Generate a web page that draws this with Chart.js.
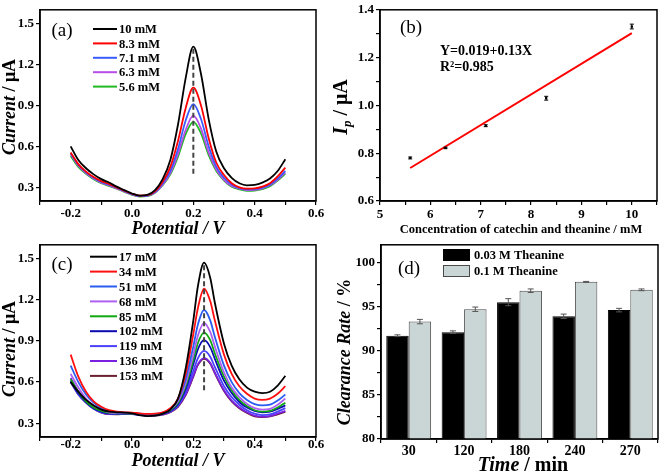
<!DOCTYPE html>
<html>
<head>
<meta charset="utf-8">
<script src="https://cdn.jsdelivr.net/npm/chart.js@4.4.0/dist/chart.umd.min.js"></script>
<style>
  body { margin: 0; background: #fff; width: 661px; height: 475px; position: relative; overflow: hidden; }
  canvas { position: absolute; }
</style>
</head>
<body>
<canvas id="chartA" width="330" height="240" style="left:0;top:0"></canvas>
<canvas id="chartB" width="331" height="240" style="left:330px;top:0"></canvas>
<canvas id="chartC" width="330" height="240" style="left:0;top:235px"></canvas>
<canvas id="chartD" width="331" height="240" style="left:330px;top:235px"></canvas>
<script>
const FONT = "'Liberation Serif','Times New Roman',serif";

// ---- (a) DPV curves, catechin + theanine ----
const potA = [-0.2, -0.175, -0.15, -0.125, -0.1, -0.075, -0.05, -0.025, 0, 0.025, 0.05, 0.075, 0.1, 0.125, 0.15,
  0.175, 0.2, 0.225, 0.25, 0.275, 0.3, 0.325, 0.35, 0.375, 0.4, 0.425, 0.45, 0.475, 0.5];
const labelsA = ['10 mM', '8.3 mM', '7.1 mM', '6.3 mM', '5.6 mM'];
const a10 = [0.60, 0.50, 0.44, 0.395, 0.36, 0.335, 0.305, 0.28, 0.255, 0.24, 0.245, 0.28, 0.36, 0.50, 0.76,
  1.10, 1.33, 1.13, 0.80, 0.56, 0.44, 0.37, 0.33, 0.315, 0.318, 0.335, 0.365, 0.42, 0.505];
const a83 = [0.555, 0.47, 0.415, 0.375, 0.345, 0.325, 0.30, 0.275, 0.253, 0.24, 0.243, 0.27, 0.34, 0.45, 0.64,
  0.88, 1.03, 0.90, 0.66, 0.48, 0.39, 0.33, 0.30, 0.29, 0.292, 0.305, 0.33, 0.38, 0.445];
const a71 = [0.55, 0.465, 0.41, 0.37, 0.34, 0.32, 0.297, 0.273, 0.25, 0.237, 0.24, 0.265, 0.33, 0.42, 0.58,
  0.79, 0.91, 0.80, 0.60, 0.45, 0.37, 0.32, 0.295, 0.285, 0.287, 0.298, 0.32, 0.365, 0.42];
const a63 = [0.545, 0.46, 0.405, 0.365, 0.335, 0.315, 0.293, 0.27, 0.248, 0.235, 0.238, 0.262, 0.32, 0.405, 0.545,
  0.72, 0.825, 0.73, 0.555, 0.43, 0.355, 0.31, 0.29, 0.28, 0.282, 0.293, 0.315, 0.355, 0.41];
const a56 = [0.53, 0.45, 0.40, 0.36, 0.33, 0.31, 0.29, 0.267, 0.245, 0.232, 0.235, 0.26, 0.315, 0.395, 0.525,
  0.69, 0.78, 0.695, 0.535, 0.42, 0.35, 0.305, 0.285, 0.275, 0.277, 0.287, 0.308, 0.35, 0.40];
const peakLineA = { x: 0.2, from: 0.4, to: 1.33 };
const potTicks = [-0.3, -0.2, -0.1, 0, 0.1, 0.2, 0.3, 0.4, 0.5, 0.6];
const potLabels = [-0.2, 0, 0.2, 0.4, 0.6];
const curTicks = [0.3, 0.6, 0.9, 1.2, 1.5];

// ---- (b) calibration ----
const concB = [5.6, 6.3, 7.1, 8.3, 10];
const ipB = [0.78, 0.822, 0.915, 1.03, 1.33];
const ipErrB = [0.004, 0.003, 0.004, 0.008, 0.01];
const fitXB = [5.6, 10];
const fitYB = [0.738, 1.302];
const concTicks = [5, 5.5, 6, 6.5, 7, 7.5, 8, 8.5, 9, 9.5, 10, 10.5];
const concLabels = [5, 6, 7, 8, 9, 10];
const ipTicks = [0.6, 0.7, 0.8, 0.9, 1.0, 1.1, 1.2, 1.3, 1.4];
const ipLabels = [0.6, 0.8, 1.0, 1.2, 1.4];

// ---- (c) DPV curves, theanine series ----
const potC = [-0.2, -0.175, -0.15, -0.125, -0.1, -0.075, -0.05, -0.025, 0, 0.025, 0.05, 0.075, 0.1, 0.125, 0.15,
  0.175, 0.2, 0.215, 0.235, 0.255, 0.27, 0.3, 0.325, 0.35, 0.375, 0.4, 0.425, 0.45, 0.475, 0.5];
const labelsC = ['17 mM', '34 mM', '51 mM', '68 mM', '85 mM', '102 mM', '119 mM', '136 mM', '153 mM'];
const c17 = [0.60, 0.53, 0.47, 0.43, 0.40, 0.385, 0.38, 0.378, 0.372, 0.36, 0.352, 0.355, 0.37, 0.40, 0.48,
  0.70, 1.05, 1.30, 1.47, 1.36, 1.18, 0.88, 0.72, 0.62, 0.56, 0.53, 0.52, 0.53, 0.575, 0.645];
const c34 = [0.80, 0.64, 0.53, 0.46, 0.42, 0.395, 0.385, 0.38, 0.378, 0.372, 0.368, 0.37, 0.38, 0.41, 0.48,
  0.66, 0.95, 1.14, 1.28, 1.19, 1.05, 0.80, 0.66, 0.57, 0.515, 0.48, 0.47, 0.48, 0.515, 0.57];
const c51 = [0.72, 0.60, 0.51, 0.45, 0.41, 0.39, 0.38, 0.378, 0.376, 0.37, 0.365, 0.367, 0.377, 0.405, 0.47,
  0.62, 0.86, 1.02, 1.125, 1.05, 0.93, 0.72, 0.60, 0.52, 0.47, 0.44, 0.43, 0.435, 0.465, 0.51];
const c68 = [0.66, 0.56, 0.48, 0.43, 0.40, 0.38, 0.375, 0.374, 0.372, 0.367, 0.362, 0.364, 0.374, 0.40, 0.46,
  0.59, 0.80, 0.94, 1.03, 0.965, 0.86, 0.67, 0.56, 0.49, 0.44, 0.41, 0.40, 0.405, 0.435, 0.48];
const c85 = [0.62, 0.53, 0.46, 0.415, 0.39, 0.375, 0.372, 0.372, 0.37, 0.365, 0.36, 0.362, 0.372, 0.395, 0.45,
  0.57, 0.76, 0.885, 0.96, 0.905, 0.81, 0.64, 0.54, 0.47, 0.425, 0.395, 0.385, 0.39, 0.415, 0.45];
const c102 = [0.61, 0.52, 0.455, 0.41, 0.385, 0.372, 0.37, 0.37, 0.368, 0.362, 0.357, 0.36, 0.37, 0.39, 0.44,
  0.55, 0.73, 0.84, 0.905, 0.855, 0.77, 0.61, 0.52, 0.455, 0.415, 0.39, 0.38, 0.385, 0.405, 0.43];
const c119 = [0.60, 0.51, 0.45, 0.405, 0.38, 0.37, 0.368, 0.368, 0.366, 0.36, 0.355, 0.357, 0.367, 0.387, 0.43,
  0.53, 0.68, 0.775, 0.827, 0.785, 0.71, 0.57, 0.49, 0.435, 0.395, 0.37, 0.36, 0.365, 0.385, 0.41];
const c136 = [0.63, 0.53, 0.46, 0.41, 0.38, 0.368, 0.366, 0.37, 0.372, 0.365, 0.358, 0.358, 0.365, 0.383, 0.425,
  0.51, 0.645, 0.73, 0.775, 0.74, 0.67, 0.54, 0.465, 0.415, 0.38, 0.355, 0.348, 0.352, 0.37, 0.39];
const c153 = [0.60, 0.51, 0.45, 0.405, 0.378, 0.366, 0.365, 0.37, 0.372, 0.364, 0.356, 0.356, 0.363, 0.38, 0.42,
  0.505, 0.64, 0.725, 0.77, 0.735, 0.665, 0.535, 0.46, 0.41, 0.375, 0.35, 0.345, 0.35, 0.365, 0.385];
const peakLineC = { x: 0.235, from: 0.54, to: 1.47 };

// ---- (d) clearance rate ----
const timeD = ['30', '120', '180', '240', '270'];
const labelsD = ['0.03 M Theanine', '0.1 M Theanine'];
const rate003 = [91.7, 92.1, 95.5, 93.9, 94.6];
const rate01 = [93.3, 94.7, 96.8, 97.8, 96.9];
const err003 = [0.1, 0.15, 0.4, 0.25, 0.2];
const err01 = [0.25, 0.25, 0.2, 0.05, 0.1];
const rateTicks = [80, 82.5, 85, 87.5, 90, 92.5, 95, 97.5, 100];
const rateLabels = [80, 85, 90, 95, 100];

const colorsA = ['#000000', '#ff0000', '#3a5cff', '#b84ee8', '#22b822'];
const colorsC = ['#000000', '#ff1010', '#2a5cf0', '#b060f0', '#10a810', '#0a0ab0', '#4a40ff', '#7a20e0', '#6a2030'];

function pts(xs, ys) {
  return xs.map((x, i) => ({ x: x, y: ys[i] }));
}

function drawRich(ctx, segs, x, y, rot, size) {
  const fontOf = s => (s.it ? 'italic ' : '') + 'bold ' + (s.sub ? size * 0.65 : size) + 'px ' + FONT;
  let w = 0;
  segs.forEach(s => { ctx.font = fontOf(s); w += ctx.measureText(s.t).width; });
  ctx.save();
  ctx.translate(x, y);
  ctx.rotate(rot);
  ctx.textAlign = 'left';
  ctx.textBaseline = 'middle';
  let cx = -w / 2;
  segs.forEach(s => {
    ctx.font = fontOf(s);
    ctx.fillText(s.t, cx, s.sub ? size * 0.3 : 0);
    cx += ctx.measureText(s.t).width;
  });
  ctx.restore();
}

// frame, panel tag, axis titles, legend, notes, error bars
function makeDecor(o) {
  return {
    id: 'decor',
    afterDatasetsDraw(chart) {
      if (!o.errors) return;
      const ctx = chart.ctx;
      const ys = chart.scales.y;
      ctx.save();
      o.errors.forEach(e => {
        const meta = chart.getDatasetMeta(e.ds);
        const data = chart.data.datasets[e.ds].data;
        meta.data.forEach((el, j) => {
          const v = typeof data[j] === 'object' ? data[j].y : data[j];
          const top = ys.getPixelForValue(v + e.err[j]);
          const bot = ys.getPixelForValue(v - e.err[j]);
          ctx.strokeStyle = e.color;
          ctx.lineWidth = 1;
          ctx.beginPath();
          ctx.moveTo(el.x, top); ctx.lineTo(el.x, bot);
          ctx.moveTo(el.x - e.cap, top); ctx.lineTo(el.x + e.cap, top);
          ctx.moveTo(el.x - e.cap, bot); ctx.lineTo(el.x + e.cap, bot);
          ctx.stroke();
        });
      });
      ctx.restore();
    },
    afterDraw(chart) {
      const ctx = chart.ctx, a = chart.chartArea;
      ctx.save();
      ctx.strokeStyle = '#000';
      ctx.lineWidth = 1.5;
      ctx.strokeRect(a.left, a.top, a.right - a.left, a.bottom - a.top);
      ctx.fillStyle = '#000';
      ctx.font = '19px ' + FONT;
      ctx.textAlign = 'center';
      ctx.textBaseline = 'middle';
      ctx.fillText(o.tag[0], o.tag[1], o.tag[2]);
      drawRich(ctx, o.xTitle.segs, o.xTitle.x, o.xTitle.y, 0, o.xTitle.size);
      drawRich(ctx, o.yTitle.segs, o.yTitle.x, o.yTitle.y, -Math.PI / 2, o.yTitle.size);
      if (o.legend) {
        const L = o.legend;
        let k = 0;
        chart.data.datasets.forEach(ds => {
          if (!ds.label) return;
          const y = L.y + k * L.dy;
          if (L.box) {
            ctx.fillStyle = ds.backgroundColor;
            ctx.fillRect(L.x0, y - 6, L.x1 - L.x0, 12);
            ctx.strokeStyle = ds.borderColor;
            ctx.lineWidth = 1;
            ctx.strokeRect(L.x0 + 0.5, y - 5.5, L.x1 - L.x0 - 1, 11);
          } else {
            ctx.strokeStyle = ds.borderColor;
            ctx.lineWidth = 2;
            ctx.beginPath();
            ctx.moveTo(L.x0, y); ctx.lineTo(L.x1, y);
            ctx.stroke();
          }
          ctx.fillStyle = '#000';
          ctx.font = 'bold 12.5px ' + FONT;
          ctx.textAlign = 'left';
          ctx.fillText(ds.label, L.tx, y + 1);
          k++;
        });
      }
      if (o.notes) {
        ctx.fillStyle = '#000';
        ctx.textAlign = 'left';
        o.notes.forEach(n => {
          ctx.font = 'bold ' + n.size + 'px ' + FONT;
          ctx.fillText(n.t, n.x, n.y);
        });
      }
      ctx.restore();
    }
  };
}

function linScale(pos, min, max, ticks, labels, digits, fit, tickPad) {
  return {
    type: 'linear', position: pos, min: min, max: max,
    afterBuildTicks: s => { s.ticks = ticks.map(v => ({ value: v })); },
    afterFit: s => { if (pos === 'left') s.width = fit; else s.height = fit; },
    border: { display: true, color: '#000', width: 1.5 },
    grid: { drawOnChartArea: false, drawTicks: true, tickLength: 4, color: '#000', lineWidth: 1.2 },
    ticks: {
      autoSkip: false, maxRotation: 0, padding: tickPad === undefined ? 2 : tickPad, color: '#000',
      font: { family: FONT, size: 13, weight: 'bold' },
      callback: v => labels.some(l => Math.abs(l - v) < 1e-6) ? v.toFixed(digits) : ''
    }
  };
}

function pad(w, h, l, t, r, b) {
  return { left: 0, top: t, right: w - r, bottom: 0 };
}

function curveChart(id, xs, series, labels, colors, peak, box, xPad, deco) {
  const datasets = series.map((ys, i) => ({
    label: labels[i], data: pts(xs, ys), borderColor: colors[i], borderWidth: 1.8,
    pointRadius: 0, cubicInterpolationMode: 'monotone', fill: false
  }));
  datasets.push({
    data: [{ x: peak.x, y: peak.from }, { x: peak.x, y: peak.to }],
    borderColor: '#444', borderWidth: 2, borderDash: [5, 3], pointRadius: 0, order: -1
  });
  return new Chart(document.getElementById(id), {
    type: 'line',
    data: { datasets: datasets },
    options: {
      responsive: false, animation: false, events: [],
      layout: { padding: pad(330, 240, box[0], box[1], box[2], box[3]) },
      plugins: { legend: { display: false }, tooltip: { enabled: false } },
      scales: {
        x: linScale('bottom', -0.3, 0.6, potTicks, potLabels, 1, 240 - box[3], xPad),
        y: linScale('left', 0.2, 1.6, curTicks, curTicks, 1, box[0])
      }
    },
    plugins: [makeDecor(deco)]
  });
}

curveChart('chartA', potA, [a10, a83, a71, a63, a56], labelsA, colorsA, peakLineA, [40, 5, 316, 201], 1, {
  tag: ['(a)', 62, 31],
  xTitle: { segs: [{ t: 'Potential / V', it: true }], x: 178, y: 229, size: 18 },
  yTitle: { segs: [{ t: 'Current', it: true }, { t: ' / μA' }], x: 10, y: 107, size: 18 },
  legend: { x0: 93, x1: 117, tx: 119, y: 29, dy: 14.4 }
});

curveChart('chartC', potC, [c17, c34, c51, c68, c85, c102, c119, c136, c153], labelsC, colorsC, peakLineC, [40, 8, 316, 202], -4, {
  tag: ['(c)', 62, 30.5],
  xTitle: { segs: [{ t: 'Potential / V', it: true }], x: 178, y: 226, size: 18 },
  yTitle: { segs: [{ t: 'Current', it: true }, { t: ' / μA' }], x: 10, y: 114, size: 18 },
  legend: { x0: 90, x1: 117, tx: 119, y: 21.7, dy: 14.9 }
});

new Chart(document.getElementById('chartB'), {
  type: 'scatter',
  data: {
    datasets: [
      { data: pts(concB, ipB), pointStyle: 'rect', pointRadius: 1.6, backgroundColor: '#000', borderColor: '#000', borderWidth: 0 },
      { data: pts(fitXB, fitYB), showLine: true, borderColor: '#ff0000', borderWidth: 2, pointRadius: 0, tension: 0 }
    ]
  },
  options: {
    responsive: false, animation: false, events: [],
    layout: { padding: pad(331, 240, 50, 6, 330, 201) },
    plugins: { legend: { display: false }, tooltip: { enabled: false } },
    scales: {
      x: linScale('bottom', 5, 10.5, concTicks, concLabels, 0, 240 - 201),
      y: linScale('left', 0.6, 1.4, ipTicks, ipLabels, 1, 50)
    }
  },
  plugins: [makeDecor({
    tag: ['(b)', 81, 28],
    xTitle: { segs: [{ t: 'Concentration of catechin and theanine / mM' }], x: 191, y: 230, size: 12.5 },
    yTitle: { segs: [{ t: 'I', it: true }, { t: 'p', it: true, sub: true }, { t: ' / μA' }], x: 12, y: 107, size: 20 },
    notes: [{ t: 'Y=0.019+0.13X', x: 110, y: 51, size: 14 }, { t: 'R²=0.985', x: 110, y: 67, size: 14 }],
    errors: [{ ds: 0, err: ipErrB, color: '#000', cap: 2 }]
  })]
});

new Chart(document.getElementById('chartD'), {
  type: 'bar',
  data: {
    labels: timeD,
    datasets: [
      { label: labelsD[0], data: rate003, backgroundColor: '#000000', borderColor: '#000000', borderWidth: 1 },
      { label: labelsD[1], data: rate01, backgroundColor: '#cad5d5', borderColor: '#4a4a4a', borderWidth: 1 }
    ]
  },
  options: {
    responsive: false, animation: false, events: [],
    layout: { padding: pad(331, 240, 51, 8, 328, 204) },
    datasets: { bar: { categoryPercentage: 0.81, barPercentage: 1.0 } },
    plugins: { legend: { display: false }, tooltip: { enabled: false } },
    scales: {
      x: {
        type: 'category',
        afterFit: s => { s.height = 240 - 204; },
        border: { display: true, color: '#000', width: 1.5 },
        grid: { drawOnChartArea: false, drawTicks: true, tickLength: 4, color: '#000', lineWidth: 1.2, offset: true },
        ticks: { padding: 0, color: '#000', font: { family: FONT, size: 14, weight: 'bold' } }
      },
      y: linScale('left', 80, 102, rateTicks, rateLabels, 0, 51)
    }
  },
  plugins: [makeDecor({
    tag: ['(d)', 79, 34],
    xTitle: { segs: [{ t: 'Time', it: true }, { t: ' / min' }], x: 193, y: 231, size: 20 },
    yTitle: { segs: [{ t: 'Clearance Rate', it: true }, { t: ' / %' }], x: 15, y: 117, size: 18 },
    legend: { x0: 113, x1: 140, tx: 144, y: 20, dy: 16, box: true },
    errors: [{ ds: 0, err: err003, color: '#555', cap: 3 }, { ds: 1, err: err01, color: '#555', cap: 3 }]
  })]
});
</script>
</body>
</html>
